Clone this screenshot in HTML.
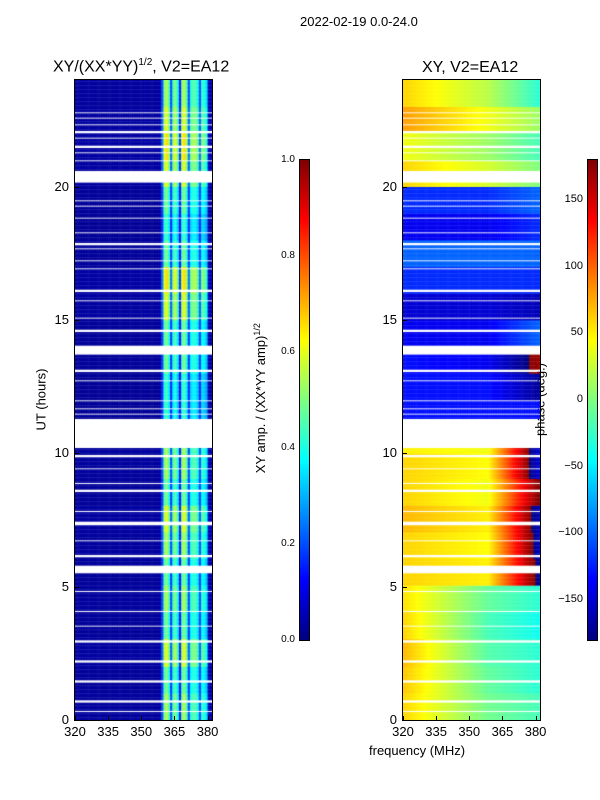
<!DOCTYPE html>
<html><head><meta charset="utf-8"><style>
body{margin:0;background:#fff;width:600px;height:800px;position:relative;overflow:hidden;font-family:"Liberation Sans",sans-serif;color:#000}
.t{position:absolute;white-space:nowrap}
canvas{position:absolute}
.frame{position:absolute;border:1px solid #000;box-sizing:border-box}
.tick{position:absolute;background:#000}
</style></head><body>
<div class="t" style="left:300px;top:14px;font-size:13px">2022-02-19 0.0-24.0</div>
<div class="t" style="left:53px;top:57px;font-size:16px">XY/(XX*YY)<sup style="font-size:10px">1/2</sup>, V2=EA12</div>
<div class="t" style="left:422px;top:59px;font-size:16px">XY, V2=EA12</div>
<div class="t" style="left:6px;top:392px;font-size:13px;transform:rotate(-90deg);width:70px;text-align:center">UT (hours)</div>
<div class="t" style="left:369px;top:743px;font-size:13px">frequency (MHz)</div>
<div class="t" style="left:160px;top:390px;width:200px;text-align:center;font-size:13px;transform:rotate(-90deg)">XY amp. / (XX*YY amp)<sup style="font-size:9px">1/2</sup></div>
<div class="t" style="left:490px;top:392px;width:100px;text-align:center;font-size:13px;transform:rotate(-90deg)">phase (deg.)</div>
<canvas id="c1" width="137" height="640" style="left:75px;top:80px"></canvas>
<canvas id="c2" width="137" height="640" style="left:403px;top:80px"></canvas>
<div class="frame" style="left:74px;top:79px;width:139px;height:642px"></div>
<div class="frame" style="left:402px;top:79px;width:139px;height:642px"></div>
<div class="frame" style="left:299px;top:159px;width:11px;height:482px;background:linear-gradient(to top,#00007f,#0000ff 12.5%,#00ffff 37.5%,#ffff00 62.5%,#ff0000 87.5%,#7f0000)"></div>
<div class="frame" style="left:587px;top:159px;width:11px;height:482px;background:linear-gradient(to top,#00007f,#0000ff 12.5%,#00ffff 37.5%,#ffff00 62.5%,#ff0000 87.5%,#7f0000)"></div>
<div id="axes"></div>
<script>
const hourTicks=[0,5,10,15,20];
const freqTicks=[320,335,350,365,380];
const ampTicks=[0.0,0.2,0.4,0.6,0.8,1.0];
const phaseTicks=[-150,-100,-50,0,50,100,150];
// amplitude per frequency channel (320..381 MHz)
const ampProfile=[0.03,0.03,0.03,0.03,0.03,0.03,0.03,0.03,0.03,0.03,0.03,0.03,0.03,0.03,0.03,0.03,0.03,0.03,0.03,0.03,0.03,0.03,0.03,0.03,0.03,0.03,0.03,0.03,0.03,0.03,0.03,0.04,0.03,0.03,0.03,0.03,0.03,0.03,0.04,0.2,0.5,0.55,0.45,0.2,0.45,0.5,0.4,0.15,0.5,0.55,0.45,0.2,0.42,0.45,0.45,0.4,0.2,0.42,0.4,0.35,0.05,0.04];
// row brightness per hour
const rowGain=[1.0,0.9,1.1,0.9,1.0,0.9,1.0,1.1,0.9,1.0,1.0,0.8,0.8,0.9,0.9,1.1,1.2,0.9,0.8,0.9,1.1,1.2,1.1,1.0];
// phase (deg) per hour at 320 MHz / 362 MHz / 381 MHz
const phaseLow=[60,65,70,60,55,60,60,70,60,60,50,-130,-130,-130,-140,-150,-120,-100,-140,-120,60,40,80,60];
const phaseMid=[-5,-10,-15,-20,-10,50,45,50,40,45,40,-130,-130,-140,-140,-150,-120,-100,-140,-120,30,10,40,20];
const phaseHigh=[-20,-30,-30,-40,-30,-170,-160,-160,180,-150,-150,-130,-170,170,-100,-160,-120,-100,-120,-100,0,-20,10,-30];
// flagged time ranges (hours)
const gaps=[[22.74,22.82],[22.55,22.62],[22.29,22.36],[22.02,22.09],[21.8,21.87],[21.46,21.53],[21.25,21.31],[20.95,21.01],[20.15,20.6],[19.43,19.5],[19.25,19.32],[18.8,18.87],[18.23,18.3],[17.82,17.89],[17.63,17.7],[17.18,17.25],[16.88,16.95],[16.06,16.13],[15.68,15.75],[15.04,15.11],[14.56,14.63],[13.7,14.03],[13.06,13.13],[12.68,12.75],[11.93,12.0],[11.63,11.7],[11.44,11.51],[10.2,11.3],[9.86,9.93],[9.38,9.45],[8.85,8.92],[8.56,8.63],[7.8,7.87],[7.28,7.47],[6.68,6.75],[6.11,6.18],[5.52,5.78],[4.8,4.87],[4.05,4.12],[3.49,3.56],[2.92,2.99],[2.17,2.24],[1.42,1.49],[0.67,0.74],[0.3,0.37]];
const F0=320,F1=382,FM=358,H1=24,W=137,Hpx=640;
const xF=f=>(f-F0)/(F1-F0)*W;
const yH=h=>Hpx-h/H1*Hpx;
function jet(v){v=Math.max(0,Math.min(1,v));const r=Math.min(4*v-1.5,-4*v+4.5),g=Math.min(4*v-0.5,-4*v+3.5),b=Math.min(4*v+0.5,-4*v+2.5);
const c=x=>Math.round(255*Math.max(0,Math.min(1,x)));return `rgb(${c(r)},${c(g)},${c(b)})`;}
function winterp(a,b,t){let d=b-a;if(d>180)d-=360;if(d<-180)d+=360;let p=a+d*t;while(p>180)p-=360;while(p<-180)p+=360;return p;}
const isGap=h=>gaps.some(g=>h>=g[0]&&h<g[1]);
const ctx1=document.getElementById('c1').getContext('2d');
const ctx2=document.getElementById('c2').getContext('2d');
const dh=0.05,nch=ampProfile.length;
for(let h=0;h<H1;h+=dh){
  if(isGap(h+dh/2))continue;
  const hi=Math.min(23,Math.floor(h));
  const y0=yH(h+dh),y1=yH(h);
  for(let i=0;i<nch;i++){
    const f=F0+i;
    const xa=xF(f),xb=xF(f+1);
    ctx1.fillStyle=jet(ampProfile[i]*rowGain[hi]);
    ctx1.fillRect(xa,y0,xb-xa+0.5,y1-y0+0.3);
    const p=f<FM?winterp(phaseLow[hi],phaseMid[hi],(f-F0)/(FM-F0)):winterp(phaseMid[hi],phaseHigh[hi],(f-FM)/(F1-1-FM));
    ctx2.fillStyle=jet((p+180)/360);
    ctx2.fillRect(xa,y0,xb-xa+0.5,y1-y0+0.3);
  }
}
const ax=document.getElementById('axes');
function add(html){ax.insertAdjacentHTML('beforeend',html);}
[75,403].forEach((px,k)=>{
  hourTicks.forEach(h=>{const y=80+yH(h);
    add(`<div class="t" style="left:${px-30}px;top:${y-8}px;width:24px;text-align:right;font-size:13px">${h}</div>`);
    add(`<div class="tick" style="left:${px}px;top:${y}px;width:4px;height:1px"></div>`);});
  freqTicks.forEach(f=>{const x=px+xF(f);
    add(`<div class="t" style="left:${x-15}px;top:724px;width:30px;text-align:center;font-size:13px">${f}</div>`);
    add(`<div class="tick" style="left:${x}px;top:716px;width:1px;height:4px"></div>`);});
});
ampTicks.forEach(v=>{const y=640-v*480;
  add(`<div class="t" style="left:270px;top:${y-6}px;width:25px;text-align:right;font-size:10px">${v.toFixed(1)}</div>`);});
phaseTicks.forEach(v=>{const y=640-(v+180)/360*480;
  add(`<div class="t" style="left:550px;top:${y-7}px;width:33px;text-align:right;font-size:11px">${v<0?'\u2212'+(-v):v}</div>`);});
</script>
</body></html>
